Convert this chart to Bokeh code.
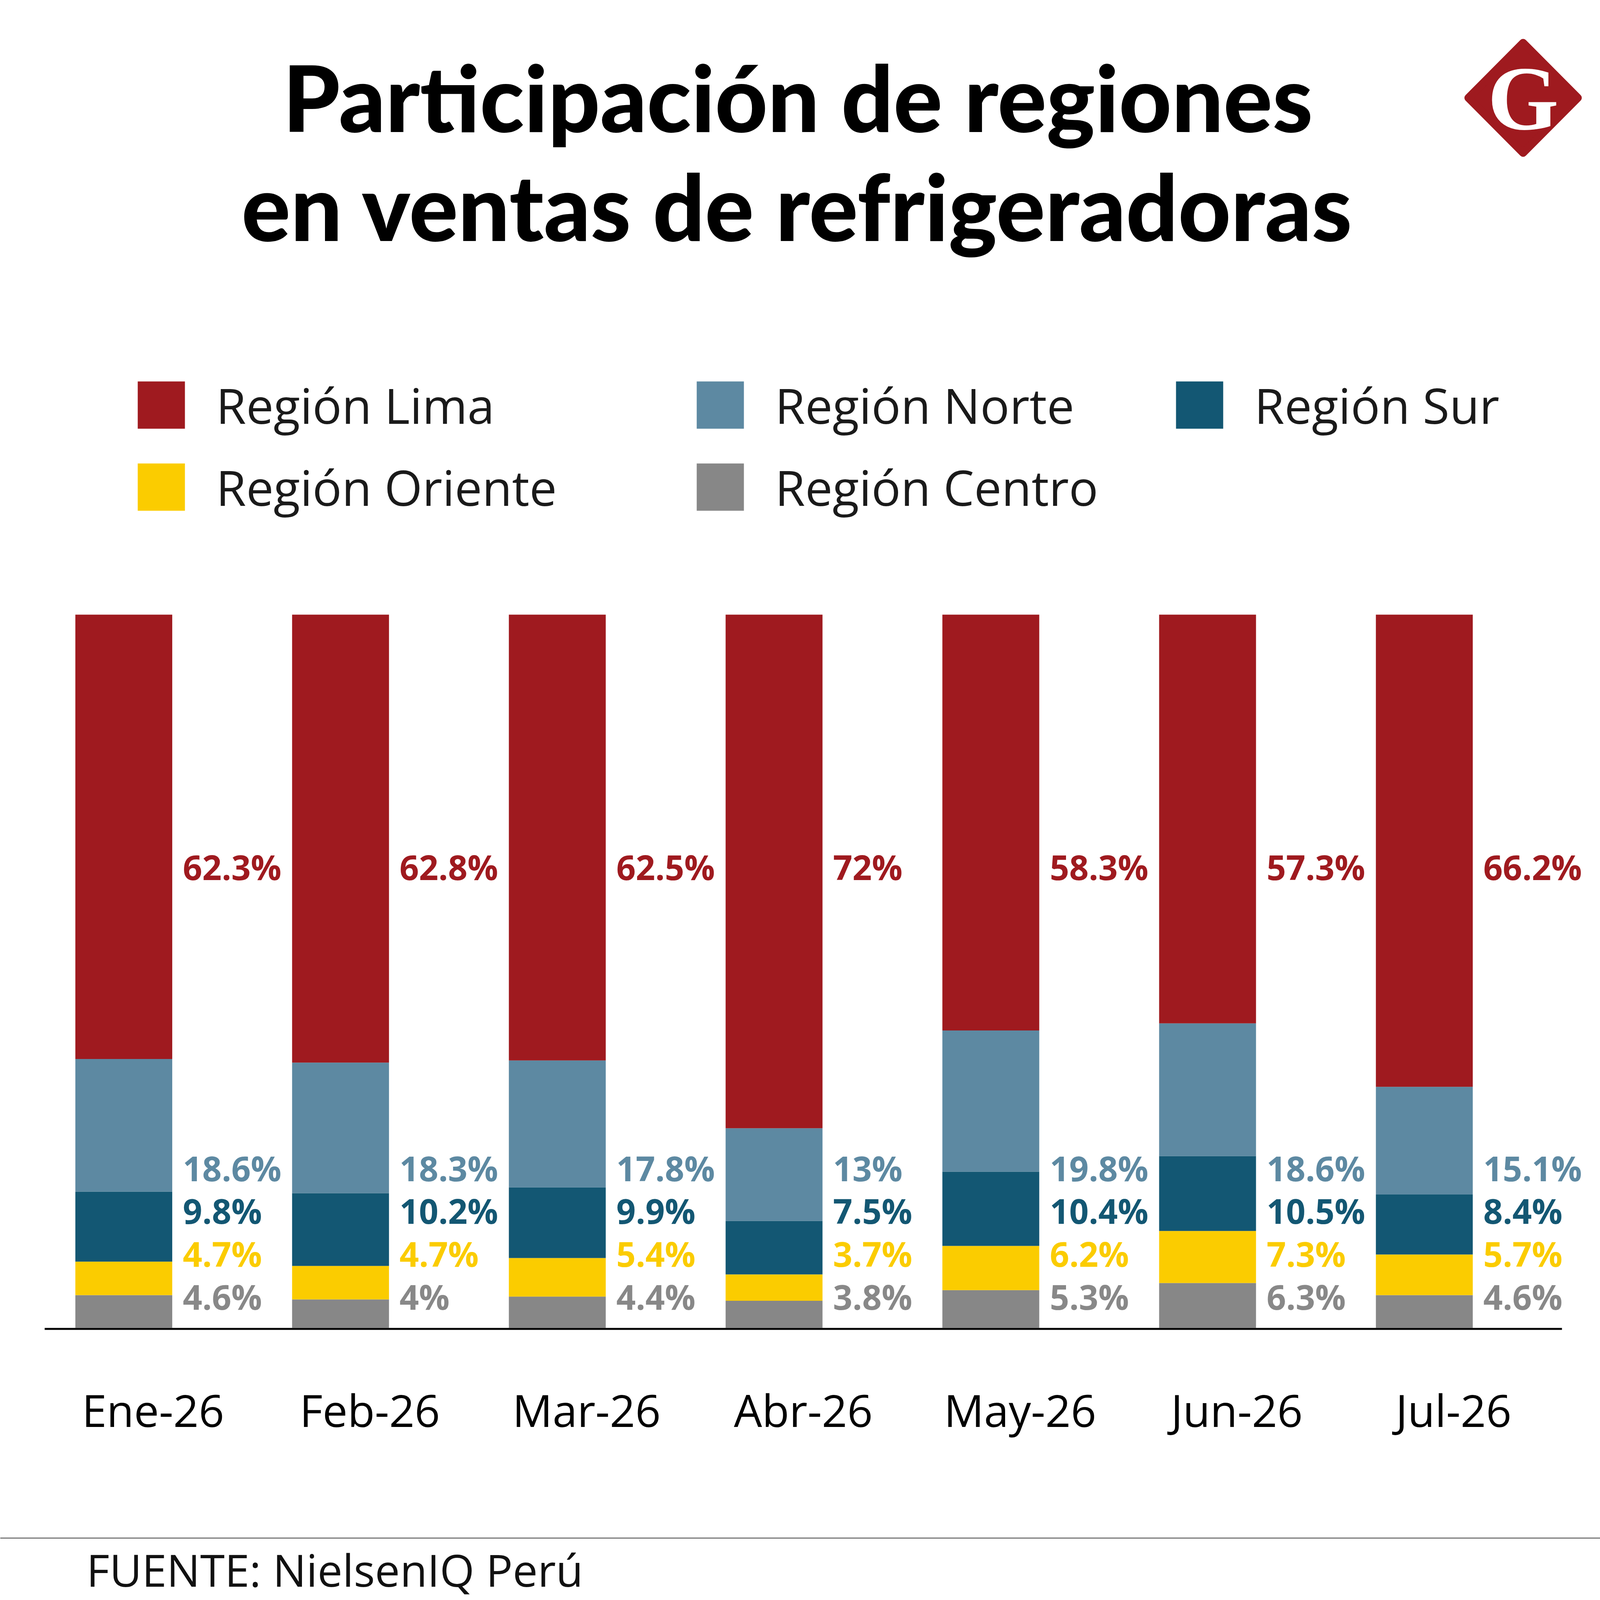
from bokeh.plotting import figure
from bokeh.models import FactorRange, Range1d, ColumnDataSource, Legend, LegendItem
from bokeh.transform import dodge
from bokeh.layouts import column
from bokeh.embed import file_html
from bokeh.resources import INLINE
from bokeh.core.properties import value

# ---------------- data ----------------
months = ["Ene-26", "Feb-26", "Mar-26", "Abr-26", "May-26", "Jun-26", "Jul-26"]
lima = [62.3, 62.8, 62.5, 72.0, 58.3, 57.3, 66.2]
norte = [18.6, 18.3, 17.8, 13.0, 19.8, 18.6, 15.1]
sur = [9.8, 10.2, 9.9, 7.5, 10.4, 10.5, 8.4]
oriente = [4.7, 4.7, 5.4, 3.7, 6.2, 7.3, 5.7]
centro = [4.6, 4.0, 4.4, 3.8, 5.3, 6.3, 4.6]
series_names = ["Región Lima", "Región Norte", "Región Sur", "Región Oriente", "Región Centro"]
title_lines = ["Participación de regiones", "en ventas de refrigeradoras"]
source_text = "FUENTE: NielsenIQ Perú"
logo_letter = "G"

# ---------------- style / layout ----------------
RED = "#9F1A1F"
NORTE_C = "#5D89A2"
SUR_C = "#135773"
ORIENTE_C = "#FBCC00"
CENTRO_C = "#878787"

W = 4134
HEADER_H = 800
MAIN_H = 2960
FOOTER_H = 4134 - HEADER_H - MAIN_H

PAGE_TOP_MAIN = 8 + HEADER_H
PAGE_TOP_FOOTER = PAGE_TOP_MAIN + MAIN_H
BASE_PAGE = 3407
FRAME_BOTTOM_PAGE = 3414
PX = 18.26  # pixels per percentage point
FRAME_H = FRAME_BOTTOM_PAGE - PAGE_TOP_MAIN
Y_END = (BASE_PAGE - PAGE_TOP_MAIN) / PX
Y_START = -(FRAME_BOTTOM_PAGE - BASE_PAGE) / PX

BAR_OFF = -0.135
BAR_W = 0.447


def fmt(v):
    return f"{v:g}%"


def clean(p):
    p.grid.visible = False
    p.outline_line_color = None
    p.background_fill_color = "white"
    p.border_fill_color = "white"


# ---------------- header: title + logo ----------------
hdr = figure(width=W, height=HEADER_H, x_range=Range1d(0, W), y_range=Range1d(HEADER_H, 0),
             output_backend="svg", toolbar_location=None, min_border=0,
             x_axis_location=None, y_axis_location=None)
clean(hdr)
hdr.text(x=[2053, 2053], y=[247, 526], text=title_lines, text_align="center",
         text_baseline="middle", text_font=value("Lato Black"), text_font_size="234px",
         text_color="#000000")
cx, cy, hd = 3919.5, 250, 141
hdr.patch(x=[cx, cx + hd, cx, cx - hd], y=[cy - hd, cy, cy + hd, cy], fill_color=RED,
          line_color=RED, line_width=20, line_join="round")
hdr.text(x=[cx], y=[251], text=[logo_letter], text_align="center", text_baseline="middle",
         text_font=value("Liberation Serif"), text_font_style="bold", text_font_size="234px",
         text_color="white")

# ---------------- main chart ----------------
src = ColumnDataSource(dict(
    month=months, lima=lima, norte=norte, sur=sur, oriente=oriente, centro=centro,
    lbl_lima=[fmt(v) for v in lima], lbl_norte=[fmt(v) for v in norte],
    lbl_sur=[fmt(v) for v in sur], lbl_oriente=[fmt(v) for v in oriente],
    lbl_centro=[fmt(v) for v in centro],
))

main = figure(width=W, height=MAIN_H,
              x_range=FactorRange(factors=months, range_padding=0.05863, range_padding_units="percent"),
              y_range=Range1d(Y_START, Y_END),
              output_backend="svg", toolbar_location=None,
              min_border_left=0, min_border_right=22, min_border_top=0,
              min_border_bottom=MAIN_H - FRAME_H, y_axis_location=None)
clean(main)

stackers = ["centro", "oriente", "sur", "norte", "lima"]
colors = [CENTRO_C, ORIENTE_C, SUR_C, NORTE_C, RED]
rs = main.vbar_stack(stackers, x=dodge("month", BAR_OFF, range=main.x_range), width=BAR_W,
                     fill_color=colors, line_color=None, source=src)
r_centro, r_oriente, r_sur, r_norte, r_lima = rs

main.segment(x0=[0], y0=[-2.5 / PX], x1=[7], y1=[-2.5 / PX], line_color="#000000", line_width=5)

label_rows = [("lima", 2226, RED), ("norte", 2997, NORTE_C), ("sur", 3106, SUR_C),
              ("oriente", 3216, ORIENTE_C), ("centro", 3326, "#888888")]
for key, page_y, col in label_rows:
    main.text(x=dodge("month", BAR_OFF + BAR_W / 2, range=main.x_range),
              y=(BASE_PAGE - page_y) / PX, text="lbl_" + key, source=src,
              x_offset=27, text_align="left", text_baseline="middle",
              text_font=value("Open Sans"), text_font_style="bold", text_font_size="87px",
              text_color=col)

ax = main.xaxis[0]
ax.axis_line_color = None
ax.major_tick_line_color = None
ax.minor_tick_line_color = None
ax.major_tick_out = 0
ax.major_label_standoff = 124
ax.major_label_text_font = "Open Sans"
ax.major_label_text_font_size = "114px"
ax.major_label_text_color = "#000000"

# legend glyphs are drawn with a 10% inset, so the box is 151 px for a 121 px square
ROW1, ROW2, ITEM_H = 1044, 1254, 171
legend_cols = [
    (337, FRAME_BOTTOM_PAGE - (ROW2 + ITEM_H / 2), [(series_names[0], r_lima), (series_names[3], r_oriente)]),
    (1768, FRAME_BOTTOM_PAGE - (ROW2 + ITEM_H / 2), [(series_names[1], r_norte), (series_names[4], r_centro)]),
    (2995, FRAME_BOTTOM_PAGE - (ROW1 + ITEM_H / 2), [(series_names[2], r_sur)]),
]
for lx, ly, items in legend_cols:
    lg = Legend(items=[LegendItem(label=n, renderers=[r]) for n, r in items],
                location=(lx, ly), orientation="vertical",
                glyph_width=151, glyph_height=151, label_standoff=65,
                spacing=ROW2 - ROW1 - ITEM_H, padding=0, margin=0, border_line_color=None,
                background_fill_alpha=0, label_text_font="Open Sans",
                label_text_font_size="125px", label_text_color="#1a1a1a")
    main.add_layout(lg)

# ---------------- footer ----------------
ftr = figure(width=W, height=FOOTER_H, x_range=Range1d(0, W), y_range=Range1d(FOOTER_H, 0),
             output_backend="svg", toolbar_location=None, min_border=0,
             x_axis_location=None, y_axis_location=None)
clean(ftr)
SEP_PAGE, SRC_PAGE = 3945, 4025
ftr.segment(x0=[0], y0=[SEP_PAGE - PAGE_TOP_FOOTER], x1=[W], y1=[SEP_PAGE - PAGE_TOP_FOOTER],
            line_color="#7a7a7a", line_width=3)
ftr.text(x=[222], y=[SRC_PAGE - PAGE_TOP_FOOTER], text=[source_text], text_font=value("Open Sans"),
         text_font_size="114px", text_baseline="middle", text_color="#111111")

layout = column(hdr, main, ftr, spacing=0)
open("out.html", "w").write(file_html(layout, INLINE))
